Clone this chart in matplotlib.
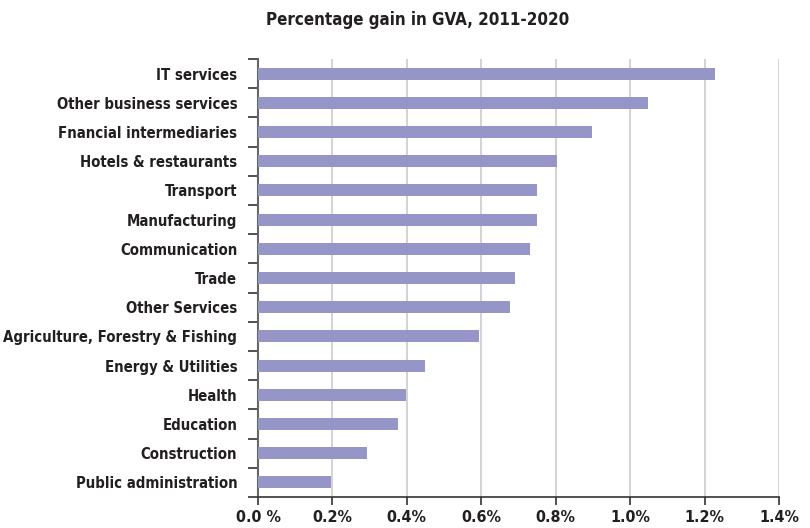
import matplotlib
matplotlib.use("Agg")
import matplotlib.pyplot as plt
from matplotlib import font_manager

sectors = ["IT services", "Other business services", "Fnancial intermediaries",
           "Hotels & restaurants", "Transport", "Manufacturing", "Communication",
           "Trade", "Other Services", "Agriculture, Forestry & Fishing",
           "Energy & Utilities", "Health", "Education", "Construction",
           "Public administration"]
gain = [1.228, 1.049, 0.898, 0.804, 0.750, 0.750, 0.731, 0.691, 0.678,
        0.594, 0.449, 0.398, 0.376, 0.293, 0.196]
xticks = [0.0, 0.2, 0.4, 0.6, 0.8, 1.0, 1.2, 1.4]
xlabels = ["0.0 %", "0.2%", "0.4%", "0.6%", "0.8%", "1.0%", "1.2%", "1.4%"]
title = "Percentage gain in GVA, 2011-2020"

# look for a narrow / condensed face, otherwise fall back to Roboto
family, stretch = "Roboto", "normal"
narrow = [f for f in font_manager.fontManager.ttflist
          if "Narrow" in f.name or "Condensed" in f.name
          or f.stretch in ("condensed", "semi-condensed", "extra-condensed")]
if narrow:
    family, stretch = narrow[0].name, narrow[0].stretch
plt.rcParams["font.family"] = [family, "DejaVu Sans"]
plt.rcParams["font.stretch"] = stretch
plt.rcParams["font.weight"] = "bold"

text_col = "#231f20"
bar_col = "#9595c8"

fig = plt.figure(figsize=(8.1, 5.28), dpi=100)
renderer = fig.canvas.get_renderer()


def size_for(s, width_px):
    t = fig.text(0, 0, s, fontsize=10, fontweight="bold")
    w = t.get_window_extent(renderer).width
    t.remove()
    return 10 * width_px / w


lab_size = min(size_for("Agriculture, Forestry & Fishing", 232), 14)
tick_size = min(size_for("1.0%", 40), 14)
title_size = min(size_for(title, 304), 16)

ax = fig.add_axes([258 / 810, 31 / 528, 521 / 810, 438 / 528])

n = len(sectors)
ypos = [n - 1 - i for i in range(n)]
ax.barh(ypos, gain, height=0.41, color=bar_col, zorder=3)

ax.set_xlim(0, 1.4)
ax.set_ylim(-0.5, n - 0.5)
ax.set_xticks(xticks)
ax.set_xticklabels(xlabels, fontsize=tick_size, color=text_col, fontweight="bold")
ax.grid(axis="x", color="#cccccc", linewidth=1.2, zorder=0)

# boundary ticks between categories, labels at category centres
ax.set_yticks([i - 0.5 for i in range(n + 1)])
ax.set_yticklabels([])
ax.set_yticks(ypos, minor=True)
ax.set_yticklabels(sectors, minor=True, fontsize=lab_size, color=text_col, fontweight="bold")
ax.tick_params(axis="y", which="major", length=7, width=1.2, color="#333333")
ax.tick_params(axis="y", which="minor", length=0, pad=15)
ax.tick_params(axis="x", length=6, width=1.2, color="#333333", pad=3)

for side in ["top", "right"]:
    ax.spines[side].set_visible(False)
ax.spines["left"].set_color("#666666")
ax.spines["left"].set_linewidth(1.5)
ax.spines["bottom"].set_color("#333333")
ax.spines["bottom"].set_linewidth(1.2)

fig.text(418 / 810, 1 - 20 / 528, title,
         ha="center", va="center", fontsize=title_size, color=text_col, fontweight="bold")

fig.savefig("out.png", dpi=100)
